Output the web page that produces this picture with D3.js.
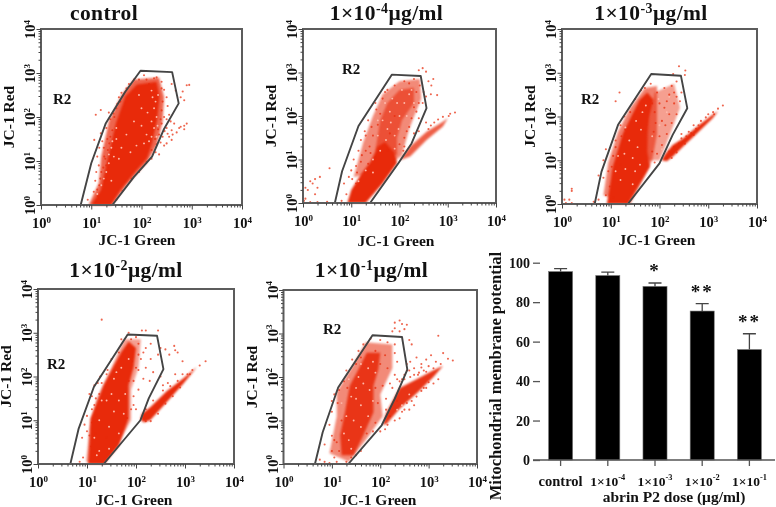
<!DOCTYPE html>
<html><head><meta charset="utf-8">
<script src="https://cdn.jsdelivr.net/npm/d3@7/dist/d3.min.js"></script>
<style>html,body{margin:0;background:#fff}svg{display:block;filter:blur(.35px)}text{font-family:"Liberation Serif",serif;font-weight:bold;fill:#111}</style>
</head><body><svg id="c" width="776" height="507"></svg>
<script>
// Values below are log10 decades: [log10 green, log10 red]
const gate1=[[.79,0],[1,.95],[1.29,1.86],[1.68,2.58],[1.98,3.05],[2.61,3.02],[2.74,2.31],[2.44,1.71],[2.21,1.1],[1.85,.64],[1.42,0]];
const gate2=[[.66,0],[.81,.73],[1.15,1.77],[1.84,2.95],[2.44,2.92],[2.56,2.18],[2.25,1.37],[1.98,.92],[1.39,0]];
const gate3=[[.67,0],[.81,.74],[1.15,1.81],[1.83,2.97],[2.44,2.93],[2.57,2.19],[2.27,1.58],[2,.93],[1.35,0]];
const gate4=[[.66,0],[.83,.81],[1.14,1.76],[1.83,2.96],[2.43,2.93],[2.56,2.17],[2.26,1.5],[2.09,1],[1.34,0]];
const gate5=[[.65,0],[.81,.73],[1.13,1.76],[1.84,2.96],[2.45,2.92],[2.56,2.17],[2.3,1.5],[2.03,.89],[1.34,0]];

const core1=[[1,0],[1.19,.34],[1.32,1.02],[1.49,1.86],[1.68,2.47],[1.91,2.74],[2.3,2.8],[2.36,2.46],[2.31,1.93],[2.21,1.4],[2.11,1.06],[1.85,.72],[1.58,.34],[1.39,0]];
const core2=[[.92,0],[1,.3],[1.2,.66],[1.4,.95],[1.55,1.3],[1.7,1.4],[1.9,1.15],[1.95,.92],[1.65,.45],[1.3,0]];
const core3=[[.92,0],[.98,.4],[1.04,.85],[1.25,1.62],[1.42,2],[1.59,2.38],[1.75,2.55],[1.88,2.38],[1.8,2],[1.76,1.62],[1.75,1.2],[1.8,.85],[1.35,0]];
const core4=[[1.02,0],[1.05,.5],[1.07,1.04],[1.34,1.8],[1.55,2.25],[1.7,2.56],[1.85,2.8],[2,2.65],[1.95,2.2],[1.85,1.8],[1.85,1.04],[1.65,.42],[1.35,0]];
const core5=[[1.2,.2],[1.17,.66],[1.27,1.19],[1.37,1.8],[1.55,2.18],[1.72,2.56],[2,2.56],[1.96,2.18],[1.86,1.8],[1.86,1.19],[1.65,.66],[1.45,.2]];

const mid1=[[.95,0],[1.15,.5],[1.2,1.1],[1.35,1.9],[1.6,2.5],[1.85,2.85],[2.35,2.9],[2.45,2.45],[2.42,1.9],[2.3,1.35],[2.1,.95],[1.7,.45],[1.42,0]];
const mid2=[[1.05,.6],[1.25,1.4],[1.45,2],[1.65,2.5],[2,2.8],[2.42,2.85],[2.45,2.4],[2.2,1.7],[2.05,1.1],[1.6,.7]];
const inner2=[[1.5,1.2],[1.6,1.9],[1.75,2.3],[2,2.6],[2.3,2.65],[2.3,2.3],[2.05,1.9],[1.95,1.5],[1.95,1.1]];
const mid3=[[1.62,1],[1.8,2],[1.9,2.55],[2.3,2.75],[2.42,2.2],[2.2,1.55],[2,1]];
const inner3=[[.85,.2],[.95,.95],[1.15,1.65],[1.4,2.2],[1.7,2.65],[1.95,2.7],[1.95,1.6],[1.85,1],[1.4,0]];
const mid4=[[.98,.05],[1.05,.8],[1.2,1.5],[1.5,2.2],[1.75,2.85],[2.1,2.85],[2.05,2.2],[1.9,1.7],[1.9,1],[1.8,.8],[1.35,0]];
const mid5=[[.95,.25],[1.1,1.1],[1.1,1.65],[1.4,2.2],[1.7,2.8],[2.25,2.75],[2.25,2.2],[2,1.6],[2.05,1.1],[1.7,.55],[1.35,.05]];

const band2=[[2,.98],[2.22,1.3],[2.56,1.64],[2.9,1.87],[3,1.95],[2.9,1.76],[2.56,1.45],[2.22,1.07]];
const band3=[[2.04,1],[2.12,1.15],[2.27,1.35],[2.48,1.5],[2.82,1.81],[3.09,2.04],[3.2,2.12],[3.09,1.96],[2.82,1.67],[2.48,1.31],[2.27,1.08],[2.15,.98]];
const band4=[[2.09,1.02],[2.12,1.15],[2.29,1.3],[2.63,1.67],[2.97,1.96],[3.24,2.22],[2.97,1.84],[2.63,1.42],[2.29,1],[2.16,.95]];
const band5=[[2.05,.9],[2.13,1.19],[2.4,1.75],[2.75,1.95],[3.09,2.15],[3.3,2.26],[3.09,1.99],[2.75,1.62],[2.4,1.27],[2.13,.92]];

const dots1=[[1.19,2.16],[1.09,2.05],[1.35,2.1],[1.19,1.63],[1.06,1.48],[1.12,1.1],[1.3,1.75],[1.22,1.45],[1.25,1.3],[1.15,.9],[1.08,.55],[1.05,.3],[1.2,.75],[.93,.12],[.55,0],[1.28,.55],[1.38,1.95],[1.5,2.2],[1.55,2.45],[1.75,2.75],[1.85,2.85],[2.05,2.95],[2.1,2.85],[2.3,2.9],[2.4,2.8],[2.45,2.62],[2.5,2.45],[2.52,2.25],[2.55,2.05],[2.45,2],[2.4,1.85],[2.5,1.75],[2.35,1.6],[2.42,1.55],[2.3,1.38],[2.28,1.2],[2.35,1.15],[2.2,1.05],[2.6,2.75],[2.68,2.6],[2.78,2.45],[2.82,2.58],[2.85,2.38],[2.9,2.72],[2.95,2.73],[2.9,1.85],[2.85,1.8],[2.78,1.78],[2.75,1.75],[2.7,1.65],[2.6,1.7],[2.55,1.55],[2.5,1.4],[2.45,1.35],[2.85,1.72],[2.65,1.85],[2.58,1.9],[2.62,1.6],[1.1,.75],[1.16,1.3],[1.28,1.05],[1.32,1.5],[1.12,.35],[1.18,.6],[1.24,.85],[1.26,1.1],[1.33,1.25],[1.38,1.55],[1.42,1.7],[1.46,2],[1.52,2.3],[1.6,2.55],[1.7,2.65],[1.95,2.85],[2.15,2.75],[2.25,2.88],[2.4,2.65],[2.42,2.35],[2.4,2.15],[2.38,1.95],[2.33,1.72],[2.27,1.5],[2.2,1.25],[2.1,.98],[1.95,.75],[1.8,.6],[1.62,.32],[1.5,.12],[1.13,.2],[1.3,.9],[1.36,1.4],[1.16,.45],[1.44,2.08],[1.58,2.35],[2.5,1.95],[2.46,1.68],[2.38,1.42],[2.52,1.62],[2.6,1.48]];
const specks1=[[1.5,1.5],[1.6,1.3],[1.45,1.1],[1.55,1.05],[1.7,1.6],[1.85,1.9],[2,1.8],[2.1,1.6],[2.2,1.9],[2.25,2.2],[2.33,2.5],[2.2,2.6],[2,2.2],[1.9,1.35],[2.15,1.45],[2.25,1.75],[2.3,1.55],[2.3,2],[2.32,1.8],[2.12,2.1],[1.78,1.2],[1.4,1.3],[1.35,.95],[1.25,.6],[1.4,.55],[1.95,2.5],[2.28,2.35],[1.12,.25],[1.2,.45],[1.3,.75],[1.35,1.15],[1.42,1.45],[1.5,1.75],[2.22,2.45],[2.05,1.4],[2.2,1.55]];

const dots2=[[.05,.1],[.1,.3],[.25,.2],[.2,.45],[.15,.5],[.25,.55],[.3,.35],[.35,.6],[.05,.35],[.55,.8],[.02,.05],[.15,.02],[.3,.02],[.4,0],[.08,0],[.5,.03],[.2,0],[.8,.05],[.85,.45],[.95,.6],[1,.75],[1.1,.85],[.9,.2],[1.05,1],[1.15,1.2],[1.2,1.45],[1.28,1.65],[1.35,1.9],[1.2,.95],[1.38,1.3],[1.45,1.55],[1.55,1.8],[1.6,2.05],[1.5,2.3],[1.65,2.4],[1.75,2.6],[1.9,2.7],[2.1,2.8],[2.3,2.85],[2.42,2.7],[2.5,2.55],[2.55,2.45],[2.65,2.5],[2.78,2.48],[2.4,3.05],[2.48,3.1],[2.55,3.02],[2.6,2.8],[2.66,2.7],[2.7,2.85],[2.48,2.3],[2.35,2.1],[2.25,1.95],[2.4,1.95],[2.15,1.65],[2.55,1.85],[2.65,1.78],[2.72,1.85],[2.8,1.92],[2.9,1.98],[3.05,2.05],[3.15,2.08],[3.02,2],[2.4,1.65],[2.3,1.6],[2.6,1.7],[2.1,1.3],[1.8,1.6],[1.9,2],[1.75,1.2],[1.5,1.05],[1.35,.9],[1.1,.45],[2,1.35],[1.02,.55],[1.12,.7],[1.22,1.1],[1.3,1.2],[1.42,1.75],[1.52,2.15],[1.7,2.55],[2.2,2.75],[2.35,2.55],[2.4,2.3],[2.3,2.2],[2.2,1.75],[2.1,1.5],[2.08,1.2],[1.3,1.55],[1.4,1.15]];
const specks2=[[1.75,1.7],[1.9,1.55],[1.65,1.9],[1.8,2.1],[2,2],[2.1,2.3],[2.2,2.5],[1.85,2.4],[1.55,1.55],[1.98,1.7],[1.7,2.3],[2.05,2.6],[2.3,2.3],[1.6,1.2],[1.45,1],[2.15,2],[1.55,1.9],[1.9,1.25],[1.72,1.45],[1.82,1.85],[1.95,2.3],[2.25,2.6],[1.3,.75],[1.15,.5],[1.45,.7]];

const dots3=[[.05,.1],[.2,.02],[.15,.1],[.2,.3],[.2,.35],[.08,.02],[.25,0],[.55,0],[.65,.05],[.75,.1],[.9,.2],[.75,.65],[.85,.6],[.95,.75],[.9,1.25],[.85,1],[1.05,1.1],[1.1,1.45],[1.18,2.55],[1.1,2.35],[1.28,2],[1.2,1.8],[1.3,1.7],[1.02,.85],[1.1,1.3],[1.22,1.55],[1.4,2.1],[1.5,2.4],[1.62,2.6],[1.7,2.65],[1.82,2.75],[2.1,2.65],[2.25,2.7],[2.35,2.8],[2.45,2.55],[2.42,2.35],[2.35,2.05],[2.25,1.85],[2.15,1.6],[2.05,1.35],[1.95,1.15],[1.85,1.2],[2.4,3.15],[2.53,3.05],[2.52,2.95],[2.28,2.97],[2.6,1.65],[2.45,1.6],[2.7,1.8],[2.85,1.9],[3,2.05],[3.1,2.1],[3.2,2.18],[3.3,2.25],[3.12,2.05],[2.95,1.98],[2.75,1.72],[2.35,1.25],[1.9,2.1],[2,2.3],[2.15,2.35],[2.2,2.05],[2.05,1.9],[1.88,1.65],[1.95,2.55],[1.2,.9],[.98,.4],[1.05,.15],[1.9,.95],[2.3,2.55],[2.2,2.5],[2.1,2.2],[2.12,1.8],[2,1.55],[1.92,1.85],[1.85,2.3],[2.3,2.3],[2.35,2.45],[2.2,1.2],[2.3,1.3],[2.4,1.38],[2.55,1.55],[2.65,1.62],[2.8,1.8],[2.45,1.5],[2.15,1.05],[2.25,1.05],[2.35,1.18],[2.52,1.38],[2.7,1.58]];
const specks3=[[1.45,1.05],[1.55,1.3],[1.62,1.7],[1.52,1.9],[1.65,2.1],[1.5,.75],[1.3,.8],[1.6,.9],[1.72,2.25],[1.38,1.45],[1.28,1.15],[1.2,.55],[1.45,.45],[1.1,.75],[1.15,1.1],[1.3,1.75],[2,1.8],[2.15,2.1],[2.2,2.45],[1.98,2.4],[1.85,1.55],[2.05,1.25]];

const dots4=[[1.3,3.3],[.9,.6],[.95,.9],[1,1.1],[1.05,.65],[1.1,1.25],[1.15,1.35],[1,.75],[1.1,1.55],[1.05,1.6],[1.15,1.8],[1.25,1.6],[1.22,1.85],[1.2,1.1],[1.18,.7],[1.08,.4],[.92,.15],[.85,.05],[.7,0],[1.27,2],[1.4,2.05],[1.5,2.4],[1.65,2.55],[1.7,2.85],[1.85,3],[1.9,2.85],[2,2.9],[2.12,3.05],[2.2,3.05],[2.45,3.05],[2.05,2.75],[2.2,2.65],[2.3,2.75],[2.5,2.65],[2.6,2.62],[2.68,2.5],[2.78,2.7],[2.8,2.6],[2.85,2.55],[2.45,2.5],[2.3,2.4],[2.1,2.4],[2,2.2],[2.2,2.2],[2.35,2.1],[2.15,1.95],[2.28,1.9],[2.05,1.7],[1.95,1.55],[1.9,1.25],[2,1.25],[2.5,2],[2.65,1.85],[2.8,2.05],[2.95,2.35],[3.05,2.05],[2.95,2.05],[2.55,1.8],[3.3,2.25],[3.42,2.35],[3.15,2.15],[1.85,1.9],[2.05,2.5],[1.82,1.05],[1.4,.6],[1.1,.95],[1.18,1.5],[1.3,1.85],[1.42,2.15],[1.95,1.9],[2.05,2.15],[2.15,2.55],[1.92,2.35],[1.95,1.35],[2.2,1.25],[2.35,1.45],[2.3,.98],[2.45,1.15],[2.6,1.38],[2.75,1.55],[2.9,1.75],[2.55,1.68],[2.7,1.78],[2.85,1.9],[3.1,2.05],[2.2,.98]];
const specks4=[[1.55,1.2],[1.45,.85],[1.65,1.45],[1.5,1.6],[1.7,2.2],[1.85,2.4],[1.45,.35],[1.25,.3],[1.55,1.95],[1.4,1.45],[1.2,.2],[1.15,.6],[1.25,1],[1.75,1.15],[1.78,1.6],[1.3,1.45],[1.65,.7],[1.6,2.1]];

const dots5=[[2.3,3.25],[2.4,3.3],[2.45,3.22],[2.5,3.1],[2.25,3.05],[2.4,3.05],[2.6,2.85],[2.3,3.12],[2.55,3.2],[3.2,2.95],[.85,.45],[.75,.1],[1,.65],[.95,.9],[1,.3],[1.05,.55],[.85,.05],[.95,.02],[1.1,.05],[1,1.2],[1,1.45],[1.05,1.6],[1.15,1.7],[1.25,1.9],[1.3,2.15],[1.42,2.4],[1.55,2.6],[1.65,2.75],[1.8,2.88],[2,2.85],[2.15,2.8],[2.3,2.55],[2.35,2.35],[2.3,2.05],[2.2,1.85],[2.12,1.5],[2.12,1.25],[1.9,.95],[1.85,.75],[1.6,.3],[1.5,.2],[1.2,0],[1.05,.15],[2.65,2.75],[2.62,2.35],[2.75,2.45],[2.85,2.3],[2.95,2.4],[3.05,2.5],[3.15,2.35],[3.25,2.3],[3.4,2.42],[3.5,2.38],[3.3,2.55],[2.6,2.15],[2.7,2.2],[2.9,2.15],[3,2.25],[2.5,2.05],[2.45,1.95],[2.35,1.45],[2.2,1.1],[2.1,.8],[2,.75],[3.2,1.95],[3.1,1.85],[2.95,1.75],[2.7,1.35],[2.6,1.25],[2.4,1.05],[2.8,2.1],[3.1,2.2],[2.15,2.2],[2,2.3],[1.9,2.6],[2.1,2.5],[1.95,1.4],[2.05,1.8],[1.9,1.75],[1.15,.3],[1.3,.05],[2.3,2.75],[2.55,2.3],[2.7,2.05],[2.55,2.15],[2.85,2.22],[2.35,1.95],[2.25,1.75],[2.15,.9],[2.3,1],[2.5,1.25],[2.65,1.45],[2.85,1.68],[1.2,1],[1.12,1.4],[1.32,1.75],[1.5,2.3],[1.6,2.45],[1.1,.5],[1.72,.7],[1.4,.15],[2.4,1.9],[2.5,1.95],[2.62,2],[2.78,2.05],[2.95,2.12],[2.45,1.2],[2.55,1.4],[2.75,1.55],[2.9,1.75],[3,1.88]];
const specks5=[[1.55,2],[1.35,1.95],[1.6,2.3],[1.5,1.5],[1.45,1],[1.6,.85],[1.35,.55],[1.6,1.35],[1.75,1.1],[1.75,2.2],[1.25,.7],[1.4,.35],[1.2,1.4],[2.45,1.35],[2.6,1.6],[2.35,1.25],[1.5,1.75],[1.78,1.7],[1.65,1.85],[1.9,2.1],[1.85,1.45],[1.4,1.55],[1.3,1.1],[1.85,2.35]];

const barCategories=["control","1×10|-4","1×10|-3","1×10|-2","1×10|-1"];
const barValues=[95.5,93.5,88,75.5,56];
const barErrorTops=[97,95.2,89.7,79.3,64];
const barStars=["","","*","**","**"];
const barTicks=[0,20,40,60,80,100];
const decades=[1,10,100,1000,10000];

const minorTicks=decades.slice(0,4).flatMap(d=>d3.range(2,10).map(k=>k*d));
const svg=d3.select("#c");
const red="#e82a0a";

function supText(sel,base,exp,fs){
  sel.text(null);
  sel.append("tspan").text(base);
  sel.append("tspan").attr("dy",-fs*.38).attr("font-size",fs*.62).text(exp);
}

const panels=[
 {title:null,plain:"control",t:104,ty:19.5,box:[41,242,29,205],gate:gate1,core:core1,coreO:1,mid:mid1,inner:null,band:null,dots:dots1,specks:specks1,r2:[53,104],midO:.72,lab:[137,245]},
 {title:["1×10","-4","μg/ml"],t:386.5,ty:19.5,box:[303,496,29,203],gate:gate2,core:core2,coreO:1,mid:mid2,inner:inner2,band:band2,dots:dots2,specks:specks2,r2:[342,74],midO:.55,bandO:.75,lab:[396,245.5]},
 {title:["1×10","-3","μg/ml"],t:651,ty:19.5,box:[562,757,29,204],gate:gate3,core:core3,coreO:1,mid:mid3,inner:inner3,band:band3,dots:dots3,specks:specks3,r2:[581,104],midO:.45,bandO:1,lab:[657,245]},
 {title:["1×10","-2","μg/ml"],t:126,ty:277,box:[38,234,289,464],gate:gate4,core:core4,coreO:1,mid:mid4,inner:null,band:band4,dots:dots4,specks:specks4,r2:[47,369],midO:.45,bandO:1,lab:[134,505]},
 {title:["1×10","-1","μg/ml"],t:371.5,ty:277,box:[283.5,477,290,464],gate:gate5,core:core5,coreO:.88,mid:mid5,inner:null,band:band5,dots:dots5,specks:specks5,r2:[323,334],midO:.55,bandO:.95,lab:[378,505]}
];

panels.forEach(p=>{
  const [x0,x1,y1,y0]=p.box;
  const x=d3.scaleLog().domain([1,1e4]).range([x0,x1]);
  const y=d3.scaleLog().domain([1,1e4]).range([y0,y1]);
  const px=d=>x(10**d[0]), py=d=>y(10**d[1]);
  const polyL=d3.line().x(px).y(py).curve(d3.curveLinearClosed);
  const g=svg.append("g");
  const tt=g.append("text").attr("x",p.t).attr("y",p.ty).attr("text-anchor","middle").attr("font-size",21.5).attr("letter-spacing",.4);
  if(p.plain) tt.text(p.plain);
  else{
    tt.append("tspan").text(p.title[0]);
    tt.append("tspan").attr("dy",-7).attr("font-size",14).text(p.title[1]);
    tt.append("tspan").attr("dy",7).text(p.title[2]);
  }
  g.append("path").attr("d",polyL(p.mid)).attr("fill",red).attr("opacity",p.midO).style("filter","blur(1.2px)");
  if(p.inner) g.append("path").attr("d",polyL(p.inner)).attr("fill",red).attr("opacity",.6).style("filter","blur(1.2px)");
  if(p.band) g.append("path").attr("d",polyL(p.band)).attr("fill",red).attr("opacity",p.bandO).style("filter","blur(.8px)");
  g.append("path").attr("d",polyL(p.core)).attr("fill",red).attr("opacity",p.coreO).style("filter","blur(.8px)");
  g.selectAll("circle.s").data(p.specks).join("circle").attr("class","s").attr("cx",px).attr("cy",py).attr("r",.95).attr("fill","#ffb9aa");
  g.selectAll("circle.d").data(p.dots).join("circle").attr("class","d").attr("cx",px).attr("cy",py).attr("r",1.05).attr("fill",red).attr("opacity",.72);
  g.append("path").attr("d",polyL(p.gate)).attr("fill","none").attr("stroke","#444").attr("stroke-width",1.9).attr("stroke-linejoin","round");
  g.append("rect").attr("x",x0).attr("y",y1).attr("width",x1-x0).attr("height",y0-y1).attr("fill","none").attr("stroke","#5c5c5c").attr("stroke-width",2);
  const ax=g.append("g").attr("transform",`translate(0,${y0})`);
  ax.append("g").call(d3.axisBottom(x).tickValues(minorTicks).tickSize(2.5).tickFormat("")).call(s=>s.select(".domain").remove());
  const axM=ax.append("g").call(d3.axisBottom(x).tickValues(decades).tickSize(4.5).tickFormat(""));
  axM.select(".domain").remove();
  axM.selectAll(".tick text").attr("font-size",14.5).attr("fill","#111").each(function(d){
    d3.select(this).attr("y",13).attr("dy",".71em");
    supText(d3.select(this),"10",Math.round(Math.log10(d)),14.5);
  });
  const ay=g.append("g").attr("transform",`translate(${x0},0)`);
  ay.append("g").call(d3.axisLeft(y).tickValues(minorTicks).tickSize(2.5).tickFormat("")).call(s=>s.select(".domain").remove());
  const ayM=ay.append("g").call(d3.axisLeft(y).tickValues(decades).tickSize(4.5).tickFormat(""));
  ayM.select(".domain").remove();
  ayM.selectAll(".tick text").attr("font-size",14.5).attr("fill","#111").each(function(d){
    d3.select(this).attr("x",0).attr("y",0).attr("dy",0).attr("text-anchor","middle").attr("transform","translate(-6,0) rotate(-90)");
    supText(d3.select(this),"10",Math.round(Math.log10(d)),14.5);
  });
  ax.selectAll("line").attr("stroke","#444");ay.selectAll("line").attr("stroke","#444");
  g.append("text").attr("x",p.lab[0]).attr("y",p.lab[1]).attr("text-anchor","middle").attr("font-size",15.5).text("JC-1 Green");
  g.append("text").attr("transform",`translate(${x0-27},${(y0+y1)/2}) rotate(-90)`).attr("text-anchor","middle").attr("font-size",15.5).text("JC-1 Red");
  g.append("text").attr("x",p.r2[0]).attr("y",p.r2[1]).attr("font-size",15).text("R2");
});

// bar chart
const bx=d3.scaleBand().domain(barCategories).range([537,773]).paddingInner(.49).paddingOuter(.245);
const by=d3.scaleLinear().domain([0,100]).range([460,262.7]);
const bg=svg.append("g");
bg.selectAll("rect").data(barValues).join("rect")
  .attr("x",(d,i)=>bx(barCategories[i])).attr("width",bx.bandwidth())
  .attr("y",d=>by(d)).attr("height",d=>by(0)-by(d)).attr("fill","#000").attr("stroke","#777").attr("stroke-width",.6);
const cxs=i=>bx(barCategories[i])+bx.bandwidth()/2;
bg.selectAll("path.e").data(barErrorTops).join("path").attr("class","e")
  .attr("d",(d,i)=>`M${cxs(i)},${by(barValues[i])}V${by(d)}M${cxs(i)-6.5},${by(d)}H${cxs(i)+6.5}`)
  .attr("stroke","#444").attr("stroke-width",1.3).attr("fill","none");
bg.selectAll("text.st").data(barStars).join("text").attr("class","st")
  .attr("x",(d,i)=>cxs(i)).attr("y",(d,i)=>by(barErrorTops[i])-2).attr("dy",-4).attr("text-anchor","middle").attr("font-size",19).attr("font-weight","normal").attr("letter-spacing",2).text(d=>d);
const bxA=bg.append("g").attr("transform","translate(0,460)").call(d3.axisBottom(bx).tickSize(6).tickFormat(""));
bxA.select(".domain").attr("stroke","#555").attr("stroke-width",1.5).attr("d","M533,0H775");
bxA.selectAll("line").attr("stroke","#555").attr("stroke-width",1.3);
bxA.selectAll(".tick text").attr("font-size",14.5).attr("fill","#111").attr("y",16).attr("dy",".71em").each(function(d){
  const parts=d.split("|");
  if(parts[1]){ d3.select(this).attr("font-size",13.5); supText(d3.select(this),parts[0],parts[1],13.5); }
  else d3.select(this).text(parts[0]);
});
const byA=bg.append("g").attr("transform","translate(540,0)").call(d3.axisLeft(by).tickValues(barTicks).tickSize(7).tickPadding(3));
byA.select(".domain").remove();
byA.selectAll("line").attr("stroke","#555").attr("stroke-width",1.3);
byA.selectAll("text").attr("font-size",14).attr("fill","#111").attr("font-family",null);
svg.append("text").attr("x",674).attr("y",502).attr("text-anchor","middle").attr("font-size",15.5).text("abrin P2 dose (μg/ml)");
svg.append("text").attr("transform","translate(501,376) rotate(-90)").attr("text-anchor","middle").attr("font-size",16.5).text("Mitochondrial membrane potential");
</script></body></html>
